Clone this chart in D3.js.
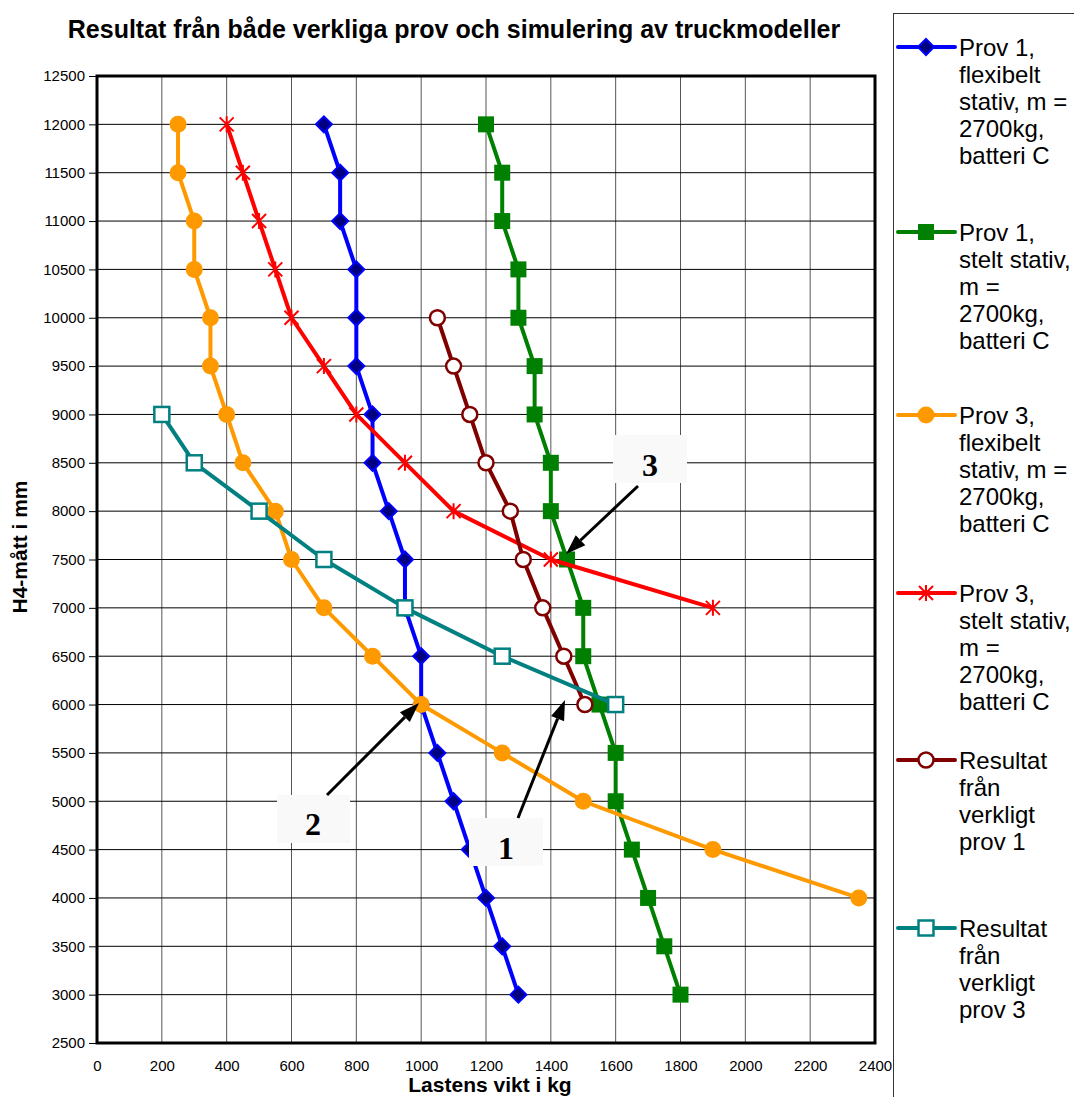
<!DOCTYPE html>
<html>
<head>
<meta charset="utf-8">
<script src="https://cdn.jsdelivr.net/npm/d3@7"></script>
<style>
  body { margin: 0; background: #fff; }
  svg { display: block; font-family: "Liberation Sans", Arial, sans-serif; }
</style>
</head>
<body>
<svg id="vis-container"></svg>
<script>
const WIDTH = 1074
const HEIGHT = 1097
const CONTAINER = d3.select("#vis-container")

const TITLE = "Resultat från både verkliga prov och simulering av truckmodeller"
const X_TITLE = "Lastens vikt i kg"
const Y_TITLE = "H4-mått i mm"

const xTicks = [0, 200, 400, 600, 800, 1000, 1200, 1400, 1600, 1800, 2000, 2200, 2400]
const yTicks = [2500, 3000, 3500, 4000, 4500, 5000, 5500, 6000, 6500, 7000, 7500, 8000, 8500,
    9000, 9500, 10000, 10500, 11000, 11500, 12000, 12500]

// Prov 1, flexibelt stativ
const prov1FlexH = [12000, 11500, 11000, 10500, 10000, 9500, 9000, 8500, 8000, 7500, 7000, 6500, 6000, 5500, 5000, 4500, 4000, 3500, 3000]
const prov1FlexKg = [700, 750, 750, 800, 800, 800, 850, 850, 900, 950, 950, 1000, 1000, 1050, 1100, 1150, 1200, 1250, 1300]
// Prov 1, stelt stativ
const prov1StelH = [12000, 11500, 11000, 10500, 10000, 9500, 9000, 8500, 8000, 7500, 7000, 6500, 6000, 5500, 5000, 4500, 4000, 3500, 3000]
const prov1StelKg = [1200, 1250, 1250, 1300, 1300, 1350, 1350, 1400, 1400, 1450, 1500, 1500, 1550, 1600, 1600, 1650, 1700, 1750, 1800]
// Prov 3, flexibelt stativ
const prov3FlexH = [12000, 11500, 11000, 10500, 10000, 9500, 9000, 8500, 8000, 7500, 7000, 6500, 6000, 5500, 5000, 4500, 4000]
const prov3FlexKg = [250, 250, 300, 300, 350, 350, 400, 450, 550, 600, 700, 850, 1000, 1250, 1500, 1900, 2350]
// Prov 3, stelt stativ
const prov3StelH = [12000, 11500, 11000, 10500, 10000, 9500, 9000, 8500, 8000, 7500, 7000]
const prov3StelKg = [400, 450, 500, 550, 600, 700, 800, 950, 1100, 1400, 1900]
// Resultat från verkligt prov 1
const verkligt1H = [10000, 9500, 9000, 8500, 8000, 7500, 7000, 6500, 6000]
const verkligt1Kg = [1050, 1100, 1150, 1200, 1275, 1315, 1375, 1440, 1505]
// Resultat från verkligt prov 3
const verkligt3H = [9000, 8500, 8000, 7500, 7000, 6500, 6000]
const verkligt3Kg = [200, 300, 500, 700, 950, 1250, 1600]

const seriesLabels = [
    ["Prov 1,", "flexibelt", "stativ, m =", "2700kg,", "batteri C"],
    ["Prov 1,", "stelt stativ,", "m =", "2700kg,", "batteri C"],
    ["Prov 3,", "flexibelt", "stativ, m =", "2700kg,", "batteri C"],
    ["Prov 3,", "stelt stativ,", "m =", "2700kg,", "batteri C"],
    ["Resultat", "från", "verkligt", "prov 1"],
    ["Resultat", "från", "verkligt", "prov 3"]
]
const seriesColors = ["#0000ff", "#008000", "#ff9900", "#ff0000", "#800000", "#008080"]
const seriesMarkers = ["diamond", "square", "circle", "star", "ocircle", "osquare"]

// numbered call-outs
const noteLabels = ["3", "2", "1"]

const series = [
    { kg: prov1FlexKg, h: prov1FlexH },
    { kg: prov1StelKg, h: prov1StelH },
    { kg: prov3FlexKg, h: prov3FlexH },
    { kg: prov3StelKg, h: prov3StelH },
    { kg: verkligt1Kg, h: verkligt1H },
    { kg: verkligt3Kg, h: verkligt3H }
].map((s, i) => ({
    points: s.kg.map((kg, j) => [kg, s.h[j]]),
    color: seriesColors[i],
    marker: seriesMarkers[i],
    label: seriesLabels[i]
}))

const PLOT = { left: 97, right: 875, top: 76, bottom: 1043 }
const x = d3.scaleLinear().domain([0, 2400]).range([PLOT.left, PLOT.right])
const y = d3.scaleLinear().domain([2500, 12500]).range([PLOT.bottom, PLOT.top])

CONTAINER.attr('width', WIDTH).attr('height', HEIGHT)

drawGrid()
drawSeries()
drawAnnotations()
drawLegend()
drawTitles()

function drawGrid() {
    const g = CONTAINER.append('g').attr('id', 'grid')

    g.selectAll('line.v').data(xTicks.slice(1, -1)).join('line')
        .attr('x1', d => x(d)).attr('x2', d => x(d))
        .attr('y1', PLOT.top).attr('y2', PLOT.bottom)
        .attr('stroke', '#555').attr('stroke-width', 1)

    g.selectAll('line.h').data(yTicks.slice(1, -1)).join('line')
        .attr('y1', d => y(d)).attr('y2', d => y(d))
        .attr('x1', PLOT.left).attr('x2', PLOT.right)
        .attr('stroke', '#000').attr('stroke-width', 1)

    const yAxis = d3.axisLeft(y).tickValues(yTicks).tickSize(8).tickPadding(4).tickFormat(d3.format('d'))
    const ya = CONTAINER.append('g').attr('transform', `translate(${PLOT.left},0)`).call(yAxis)
    ya.select('.domain').remove()
    ya.selectAll('text').attr('font-size', 15).attr('fill', '#000')
        .attr('font-family', '"Liberation Sans", Arial, sans-serif')

    const xAxis = d3.axisBottom(x).tickValues(xTicks).tickSize(0).tickPadding(17).tickFormat(d3.format('d'))
    const xa = CONTAINER.append('g').attr('transform', `translate(0,${PLOT.bottom})`).call(xAxis)
    xa.select('.domain').remove()
    xa.selectAll('text').attr('font-size', 15).attr('fill', '#000')
        .attr('font-family', '"Liberation Sans", Arial, sans-serif')

    CONTAINER.append('rect')
        .attr('x', PLOT.left).attr('y', PLOT.top)
        .attr('width', PLOT.right - PLOT.left).attr('height', PLOT.bottom - PLOT.top)
        .attr('fill', 'none').attr('stroke', '#000').attr('stroke-width', 3)
}

function drawMarker(g, type, color, cx, cy) {
    switch (type) {
        case 'diamond':
            g.append('path')
                .attr('d', `M${cx},${cy - 8}L${cx + 8},${cy}L${cx},${cy + 8}L${cx - 8},${cy}Z`)
                .attr('fill', '#000080').attr('stroke', color).attr('stroke-width', 2)
            break;
        case 'square':
            g.append('rect')
                .attr('x', cx - 8).attr('y', cy - 8).attr('width', 16).attr('height', 16)
                .attr('fill', color)
            break;
        case 'circle':
            g.append('circle').attr('cx', cx).attr('cy', cy).attr('r', 8.5).attr('fill', color)
            break;
        case 'star':
            g.append('path')
                .attr('d', `M${cx - 7},${cy - 7}L${cx + 7},${cy + 7}M${cx - 7},${cy + 7}L${cx + 7},${cy - 7}M${cx},${cy - 8}L${cx},${cy + 8}`)
                .attr('stroke', color).attr('stroke-width', 2).attr('fill', 'none')
            break;
        case 'ocircle':
            g.append('circle').attr('cx', cx).attr('cy', cy).attr('r', 7.5)
                .attr('fill', '#fff').attr('stroke', color).attr('stroke-width', 2.5)
            break;
        case 'osquare':
            g.append('rect')
                .attr('x', cx - 7.5).attr('y', cy - 7.5).attr('width', 15).attr('height', 15)
                .attr('fill', '#fff').attr('stroke', color).attr('stroke-width', 2.5)
            break;
    }
}

function drawSeries() {
    const line = d3.line().x(d => x(d[0])).y(d => y(d[1]))
    const g = CONTAINER.append('g').attr('class', 'figure')

    series.forEach(s => {
        g.append('path').datum(s.points)
            .attr('d', line)
            .attr('fill', 'none').attr('stroke', s.color)
            .attr('stroke-width', 4).attr('stroke-linejoin', 'round')
        s.points.forEach(p => drawMarker(g, s.marker, s.color, x(p[0]), y(p[1])))
    })
}

function drawAnnotations() {
    const g = CONTAINER.append('g').attr('id', 'notes')
    const boxes = [
        { x: 613, y: 435, w: 74, h: 48, tx: 650, ty: 476, tail: [638, 486] },
        { x: 277, y: 795, w: 73, h: 48, tx: 313, ty: 835, tail: [327, 795] },
        { x: 469, y: 818, w: 74, h: 48, tx: 506, ty: 859, tail: [518, 818] }
    ]
    const tips = [[566, 554], [419, 703], [565, 700]]

    boxes.forEach((b, i) => {
        g.append('rect').attr('x', b.x).attr('y', b.y).attr('width', b.w).attr('height', b.h)
            .attr('fill', '#f9f9f9')
        g.append('text').attr('x', b.tx).attr('y', b.ty)
            .attr('text-anchor', 'middle')
            .attr('font-family', '"Liberation Serif", "Times New Roman", serif')
            .attr('font-weight', 'bold').attr('font-size', 32)
            .text(noteLabels[i])

        const [x1, y1] = b.tail
        const [x2, y2] = tips[i]
        const ang = Math.atan2(y2 - y1, x2 - x1)
        const len = 20, half = 7
        const bx = x2 - len * Math.cos(ang), by = y2 - len * Math.sin(ang)
        g.append('line').attr('x1', x1).attr('y1', y1).attr('x2', bx).attr('y2', by)
            .attr('stroke', '#000').attr('stroke-width', 3)
        g.append('path')
            .attr('d', `M${x2},${y2}L${bx + half * Math.sin(ang)},${by - half * Math.cos(ang)}L${bx - half * Math.sin(ang)},${by + half * Math.cos(ang)}Z`)
            .attr('fill', '#000')
    })
}

function drawLegend() {
    const g = CONTAINER.append('g').attr('id', 'legend')
    g.append('rect').attr('x', 893.5).attr('y', 13.5).attr('width', 200).attr('height', 1100)
        .attr('fill', '#fff').attr('stroke', '#333').attr('stroke-width', 1)

    const entryY = [47, 232, 415, 593, 760, 928]
    series.forEach((s, i) => {
        const cy = entryY[i]
        g.append('line').attr('x1', 898).attr('x2', 955).attr('y1', cy).attr('y2', cy)
            .attr('stroke', s.color).attr('stroke-width', 4).attr('stroke-linecap', 'round')
        drawMarker(g, s.marker, s.color, 926, cy)
        const t = g.append('text').attr('x', 959).attr('y', cy + 9)
            .attr('font-size', 24).attr('fill', '#000')
        s.label.forEach((line, k) => {
            t.append('tspan').attr('x', 959).attr('dy', k === 0 ? 0 : 27).text(line)
        })
    })
}

function drawTitles() {
    CONTAINER.append('text')
        .attr('x', 454).attr('y', 38)
        .attr('text-anchor', 'middle').attr('font-weight', 'bold').attr('font-size', 25)
        .text(TITLE)

    CONTAINER.append('text')
        .attr('x', 490).attr('y', 1092)
        .attr('text-anchor', 'middle').attr('font-weight', 'bold').attr('font-size', 21)
        .text(X_TITLE)

    CONTAINER.append('text')
        .attr('transform', 'translate(27,547) rotate(-90)')
        .attr('text-anchor', 'middle').attr('font-weight', 'bold').attr('font-size', 21)
        .text(Y_TITLE)
}
</script>
</body>
</html>
